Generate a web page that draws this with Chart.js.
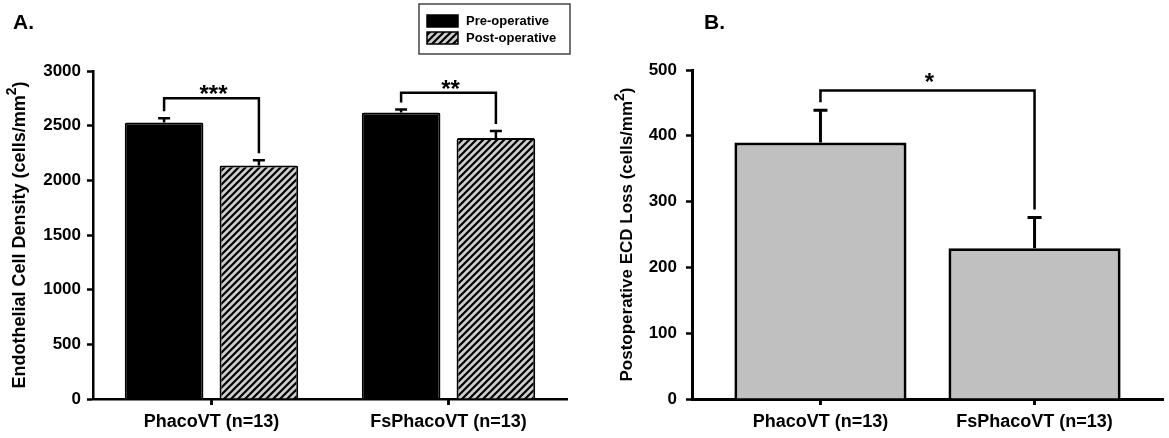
<!DOCTYPE html>
<html>
<head>
<meta charset="utf-8">
<script src="https://cdn.jsdelivr.net/npm/chart.js@4.4.1/dist/chart.umd.min.js"></script>
<style>
html, body { margin: 0; padding: 0; background: #fff; }
#wrap { position: relative; width: 1169px; height: 438px; }
.panel { position: absolute; top: 0; height: 438px; }
#panelA { left: 0; width: 580px; }
#panelB { left: 585px; width: 584px; }
</style>
</head>
<body>
<div id="wrap">
  <div class="panel" id="panelA"><canvas id="chartA"></canvas></div>
  <div class="panel" id="panelB"><canvas id="chartB"></canvas></div>
</div>
<script>
// data
const categories = ['PhacoVT (n=13)', 'FsPhacoVT (n=13)'];
const preOp = [2530, 2620];
const preOpSem = [38, 28];
const postOp = [2135, 2388];
const postOpSem = [48, 63];
const sigA = ['***', '**'];
const bracketA = [2750, 2800];

const ecdLoss = [390, 229];
const ecdLossSem = [49, 47];
const sigB = ['*'];
const bracketB = [469];

const FONT = '"Liberation Sans", Arial, sans-serif';
Chart.defaults.font.family = FONT;
Chart.defaults.font.weight = 'bold';
Chart.defaults.color = '#000';

function hatch() {
    const c = document.createElement('canvas');
    c.width = 7; c.height = 7;
    const g = c.getContext('2d');
    g.fillStyle = '#cdcdcd';
    g.fillRect(0, 0, 7, 7);
    g.strokeStyle = '#000';
    g.lineWidth = 2.2;
    g.beginPath();
    g.moveTo(-1, 8); g.lineTo(8, -1);
    g.moveTo(-1, 1); g.lineTo(1, -1);
    g.moveTo(6, 8); g.lineTo(8, 6);
    g.stroke();
    return g.createPattern(c, 'repeat');
}
const hatchFill = hatch();

// error bars (upper half only)
const errorBars = {
    id: 'errorBars',
    afterDatasetsDraw(chart, args, opts) {
        const ctx = chart.ctx;
        const y = chart.scales.y;
        ctx.save();
        ctx.strokeStyle = '#000';
        ctx.lineWidth = opts.width;
        chart.data.datasets.forEach((ds, i) => {
            chart.getDatasetMeta(i).data.forEach((bar, j) => {
                const v = ds.data[j].y !== undefined ? ds.data[j].y : ds.data[j];
                const top = y.getPixelForValue(v + ds.errors[j]);
                ctx.beginPath();
                ctx.moveTo(bar.x, bar.y);
                ctx.lineTo(bar.x, top);
                ctx.moveTo(bar.x - opts.cap / 2, top);
                ctx.lineTo(bar.x + opts.cap / 2, top);
                ctx.stroke();
            });
        });
        ctx.restore();
    }
};

// significance brackets
const brackets = {
    id: 'brackets',
    afterDatasetsDraw(chart, args, opts) {
        const ctx = chart.ctx;
        const y = chart.scales.y;
        ctx.save();
        ctx.strokeStyle = '#000';
        ctx.lineWidth = opts.width;
        opts.links.forEach(l => {
            const ends = [l.a, l.b].map(([d, k]) => {
                const ds = chart.data.datasets[d];
                const v = ds.data[k].y !== undefined ? ds.data[k].y : ds.data[k];
                return {
                    x: chart.getDatasetMeta(d).data[k].x,
                    y: y.getPixelForValue(v + ds.errors[k]) - opts.gap
                };
            });
            const top = y.getPixelForValue(l.top);
            ctx.beginPath();
            ctx.moveTo(ends[0].x, ends[0].y);
            ctx.lineTo(ends[0].x, top);
            ctx.lineTo(ends[1].x, top);
            ctx.lineTo(ends[1].x, ends[1].y);
            ctx.stroke();
            ctx.fillStyle = '#000';
            ctx.font = 'bold ' + opts.size + 'px ' + FONT;
            ctx.textAlign = 'center';
            ctx.textBaseline = 'alphabetic';
            ctx.fillText(l.label, (ends[0].x + ends[1].x) / 2 + 2, top - opts.lift + opts.size * 0.57);
        });
        ctx.restore();
    }
};

// rotated axis title with a raised "2", the panel letter, x tick marks
const decorations = {
    id: 'decorations',
    afterDraw(chart, args, opts) {
        const ctx = chart.ctx;
        const area = chart.chartArea;
        const x = chart.scales.x;
        ctx.save();
        ctx.strokeStyle = '#000';
        ctx.lineWidth = 2.5;
        ctx.beginPath();
        x.ticks.forEach((t, i) => {
            const px = x.getPixelForTick(i);
            ctx.moveTo(px, area.bottom);
            ctx.lineTo(px, area.bottom + 6);
        });
        ctx.stroke();

        ctx.fillStyle = '#000';
        ctx.font = 'bold ' + opts.letterSize + 'px ' + FONT;
        ctx.textBaseline = 'middle';
        ctx.textAlign = 'left';
        ctx.fillText(opts.letter, opts.letterX, opts.letterY);

        const s = opts.size;
        const main = 'bold ' + s + 'px ' + FONT;
        const small = 'bold ' + Math.round(s * 0.8) + 'px ' + FONT;
        ctx.font = main;
        const w1 = ctx.measureText(opts.title).width;
        const w3 = ctx.measureText(')').width;
        ctx.font = small;
        const w2 = ctx.measureText('2').width;
        const total = w1 + w2 + w3;
        ctx.translate(opts.titleX, (area.top + area.bottom) / 2);
        ctx.rotate(-Math.PI / 2);
        ctx.textAlign = 'left';
        ctx.font = main;
        ctx.fillText(opts.title, -total / 2, 0);
        ctx.font = small;
        ctx.fillText('2', -total / 2 + w1, -s * 0.42);
        ctx.font = main;
        ctx.fillText(')', -total / 2 + w1 + w2, 0);
        ctx.restore();
    }
};

// boxed legend for panel A
const boxLegend = {
    id: 'boxLegend',
    afterDraw(chart, args, opts) {
        const ctx = chart.ctx;
        ctx.save();
        ctx.strokeStyle = '#444';
        ctx.lineWidth = 1.5;
        ctx.strokeRect(opts.x, opts.y, opts.w, opts.h);
        ctx.font = 'bold 13px ' + FONT;
        ctx.textBaseline = 'middle';
        ctx.textAlign = 'left';
        chart.data.datasets.forEach((ds, i) => {
            const ry = opts.y + 11 + i * 17;
            ctx.fillStyle = ds.backgroundColor;
            ctx.fillRect(opts.x + 8, ry, 31, 12);
            ctx.strokeStyle = '#000';
            ctx.lineWidth = 1.5;
            ctx.strokeRect(opts.x + 8, ry, 31, 12);
            ctx.fillStyle = '#000';
            ctx.fillText(ds.label, opts.x + 47, ry + 6);
        });
        ctx.restore();
    }
};

const axisFont = { size: 17, weight: 'bold' };
const catFont = { size: 18, weight: 'bold' };
const plain = v => String(v);
const tickGrid = { display: true, offset: false, drawOnChartArea: false, tickLength: 6, tickWidth: 2.5, tickColor: '#000' };

new Chart(document.getElementById('chartA'), {
    type: 'bar',
    data: {
        labels: categories,
        datasets: [
            { label: 'Pre-operative', data: preOp, errors: preOpSem, backgroundColor: '#000', borderColor: '#000', borderWidth: 2, borderRadius: 2 },
            { label: 'Post-operative', data: postOp, errors: postOpSem, backgroundColor: hatchFill, borderColor: '#000', borderWidth: 2, borderRadius: 2 }
        ]
    },
    options: {
        responsive: true,
        maintainAspectRatio: false,
        animation: false,
        categoryPercentage: 0.8,
        barPercentage: 0.83,
        layout: { padding: { top: 71, right: 13, left: 0, bottom: 0 } },
        plugins: {
            legend: { display: false },
            tooltip: { enabled: false },
            errorBars: { width: 2.5, cap: 12 },
            brackets: {
                width: 2.5, gap: 7, size: 24, lift: 10,
                links: sigA.map((s, k) => ({ a: [0, k], b: [1, k], top: bracketA[k], label: s }))
            },
            decorations: { letter: 'A.', letterX: 13, letterY: 23, letterSize: 21, title: 'Endothelial Cell Density (cells/mm', titleX: 20, size: 18 },
            boxLegend: { x: 419, y: 4, w: 151, h: 50 }
        },
        scales: {
            x: {
                offset: true,
                grid: tickGrid,
                border: { display: true, color: '#000', width: 2.5 },
                ticks: { font: catFont, padding: 6, color: '#000' },
                afterFit: s => { s.height = 39; }
            },
            y: {
                min: 0, max: 3000,
                grid: tickGrid,
                border: { display: true, color: '#000', width: 2.5 },
                ticks: { stepSize: 500, font: axisFont, padding: 6, color: '#000', callback: plain },
                afterFit: s => { s.width = 93; }
            }
        }
    },
    plugins: [errorBars, brackets, decorations, boxLegend]
});

new Chart(document.getElementById('chartB'), {
    type: 'bar',
    data: {
        datasets: [
            {
                label: 'Postoperative ECD Loss',
                data: ecdLoss.map((v, i) => ({ x: i, y: v })),
                errors: ecdLossSem,
                backgroundColor: '#c0c0c0', borderColor: '#000', borderWidth: 3
            }
        ]
    },
    options: {
        responsive: true,
        maintainAspectRatio: false,
        animation: false,
        categoryPercentage: 1,
        barPercentage: 0.804,
        layout: { padding: { top: 70, right: 6, left: 0, bottom: 0 } },
        plugins: {
            legend: { display: false },
            tooltip: { enabled: false },
            errorBars: { width: 3, cap: 14 },
            brackets: {
                width: 2.5, gap: 8, size: 24, lift: 14,
                links: sigB.map((s, k) => ({ a: [0, k], b: [0, k + 1], top: bracketB[k], label: s }))
            },
            decorations: { letter: 'B.', letterX: 119, letterY: 23, letterSize: 21, title: 'Postoperative ECD Loss (cells/mm', titleX: 42, size: 17 }
        },
        scales: {
            x: {
                type: 'linear',
                min: -0.6, max: 1.6,
                offset: false,
                afterBuildTicks: s => { s.ticks = categories.map((c, i) => ({ value: i })); },
                grid: tickGrid,
                border: { display: true, color: '#000', width: 3 },
                ticks: { font: catFont, padding: 6, color: '#000', autoSkip: false, callback: v => categories[v] },
                afterFit: s => { s.height = 39; }
            },
            y: {
                min: 0, max: 500,
                grid: tickGrid,
                border: { display: true, color: '#000', width: 3 },
                ticks: { stepSize: 100, font: axisFont, padding: 9, color: '#000', callback: plain },
                afterFit: s => { s.width = 107; }
            }
        }
    },
    plugins: [errorBars, brackets, decorations]
});
</script>
</body>
</html>
